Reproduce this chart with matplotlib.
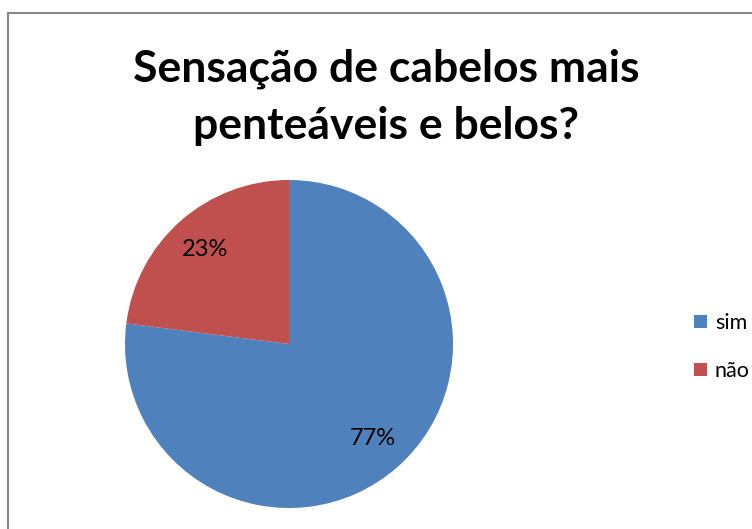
import matplotlib
matplotlib.use("Agg")
import matplotlib.pyplot as plt
from matplotlib.lines import Line2D

# ============================= DATA =============================
title = "Sensação de cabelos mais\npenteáveis e belos?"
labels = ["sim", "não"]
values = [77, 23]
colors = ["#4F81BD", "#C0504D"]

W, H = 752, 529
plt.rcParams["font.family"] = ["Lato", "DejaVu Sans"]

fig = plt.figure(figsize=(W / 100, H / 100), dpi=100)

# pie axes, square, center at (289, 344) px, radius 164 px
cx, cy, r = 289, 344, 164
ax = fig.add_axes([(cx - r) / W, (H - cy - r) / H, 2 * r / W, 2 * r / H])
wedges, texts, autotexts = ax.pie(
    values,
    colors=colors,
    startangle=90,
    counterclock=False,
    autopct="%d%%",
    pctdistance=0.77,
    radius=1,
    wedgeprops=dict(linewidth=0),
    textprops=dict(fontsize=17, color="black"),
)
ax.set_xlim(-1, 1)
ax.set_ylim(-1, 1)
ax.set_aspect("equal")
ax.axis("off")

# title
fig.text(386 / W, 1 - 97 / H, title, ha="center", va="center",
         fontsize=32, fontweight="bold", linespacing=1.5)

# legend
leg = fig.legend(wedges, labels, loc="center left",
                 bbox_to_anchor=(675 / W, 1 - 347 / H),
                 frameon=False, fontsize=15.5,
                 handlelength=0.6, handleheight=0.6,
                 handletextpad=0.35, labelspacing=1.3)

# chart frame (gray border on left and top)
fig.add_artist(Line2D([8 / W, 8 / W], [0, 1 - 13 / H], color="#868686", lw=1.5,
                      transform=fig.transFigure))
fig.add_artist(Line2D([8 / W, 1], [1 - 13 / H, 1 - 13 / H], color="#868686", lw=1.5,
                      transform=fig.transFigure))

fig.savefig("out.png", dpi=100)
